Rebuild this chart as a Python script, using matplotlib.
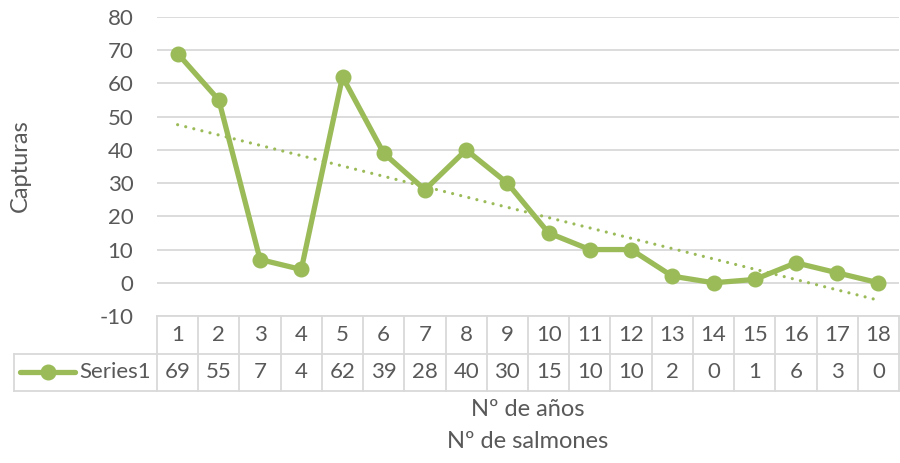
import numpy as np
import matplotlib
matplotlib.use("Agg")
import matplotlib.pyplot as plt

years = list(range(1, 19))
captures = [69, 55, 7, 4, 62, 39, 28, 40, 30, 15, 10, 10, 2, 0, 1, 6, 3, 0]
series_name = "Series1"
yticks = [-10, 0, 10, 20, 30, 40, 50, 60, 70, 80]

GREEN = "#9BBB59"
TXT = "#595959"
GRID = "#D9D9D9"
FONT = "Lato"
FS = 16
FS_T = 17

W, H = 900, 463
fig = plt.figure(figsize=(W / 100, H / 100), dpi=100)

# pixel layout
px_l, px_r = 157, 899
px_top, px_bot = 17, 316
tab_bot = 391
tab_left = 14

ax = fig.add_axes([px_l / W, 1 - px_bot / H, (px_r - px_l) / W, (px_bot - px_top) / H])
n = len(years)
ax.set_xlim(0.5, n + 0.5)
ax.set_ylim(-10, 80)
ax.set_yticks(yticks)
ax.set_yticklabels([str(v) for v in yticks], fontsize=FS, color=TXT, family=FONT)
ax.tick_params(axis="y", length=0, pad=17)
ax.set_xticks([])
for s in ax.spines.values():
    s.set_visible(False)
ax.grid(axis="y", color=GRID, linewidth=1.3)
ax.set_axisbelow(True)

x = np.array(years, dtype=float)
y = np.array(captures, dtype=float)
ax.plot(x, y, color=GREEN, linewidth=3.8, marker="o", markersize=10.5, zorder=3,
        solid_joinstyle="round")
k, b = np.polyfit(x, y, 1)
ax.plot(x, k * x + b, color=GREEN, linewidth=2.3, linestyle=(0, (0.01, 2.6)),
        dash_capstyle="round", zorder=2)

fig.text(20 / W, 1 - 166 / H, "Capturas", rotation=90, ha="center", va="center",
         fontsize=FS_T, color=TXT, family=FONT)

# data table
unit = (px_r - px_l) / n
xl = 0.5 - (px_l - tab_left) / unit
tax = fig.add_axes([tab_left / W, 1 - tab_bot / H, (px_r - tab_left) / W, (tab_bot - px_bot) / H])
tax.set_xlim(xl, n + 0.5)
tax.set_ylim(0, 2)
tax.axis("off")
lc = GRID
lw = 1.3
tax.plot([0.5, n + 0.5], [2, 2], color=lc, lw=lw, clip_on=False)
tax.plot([xl, n + 0.5], [1, 1], color=lc, lw=lw, clip_on=False)
tax.plot([xl, n + 0.5], [0, 0], color=lc, lw=lw, clip_on=False)
for i in range(n + 1):
    tax.plot([i + 0.5, i + 0.5], [0, 2], color=lc, lw=lw, clip_on=False)
tax.plot([xl, xl], [0, 1], color=lc, lw=lw, clip_on=False)
for i, (yr, v) in enumerate(zip(years, captures)):
    tax.text(yr, 1.5, str(yr), ha="center", va="center", fontsize=FS, color=TXT, family=FONT)
    tax.text(yr, 0.5, str(v), ha="center", va="center", fontsize=FS, color=TXT, family=FONT)
# legend key in table
lx0 = xl + (20 - tab_left) / unit
lx1 = xl + (75 - tab_left) / unit
tax.plot([lx0, lx1], [0.5, 0.5], color=GREEN, lw=3.8, solid_capstyle="round", clip_on=False)
tax.plot([(lx0 + lx1) / 2], [0.5], marker="o", color=GREEN, markersize=10.5, clip_on=False)
tax.text(xl + (79 - tab_left) / unit, 0.5, series_name, ha="left", va="center",
         fontsize=FS, color=TXT, family=FONT)

cx = (px_l + px_r) / 2 / W
fig.text(cx, 1 - 410 / H, "Nº de años", ha="center", va="center", fontsize=FS_T, color=TXT, family=FONT)
fig.text(cx, 1 - 441 / H, "Nº de salmones", ha="center", va="center", fontsize=FS_T, color=TXT, family=FONT)

fig.savefig("out.png", dpi=100)
